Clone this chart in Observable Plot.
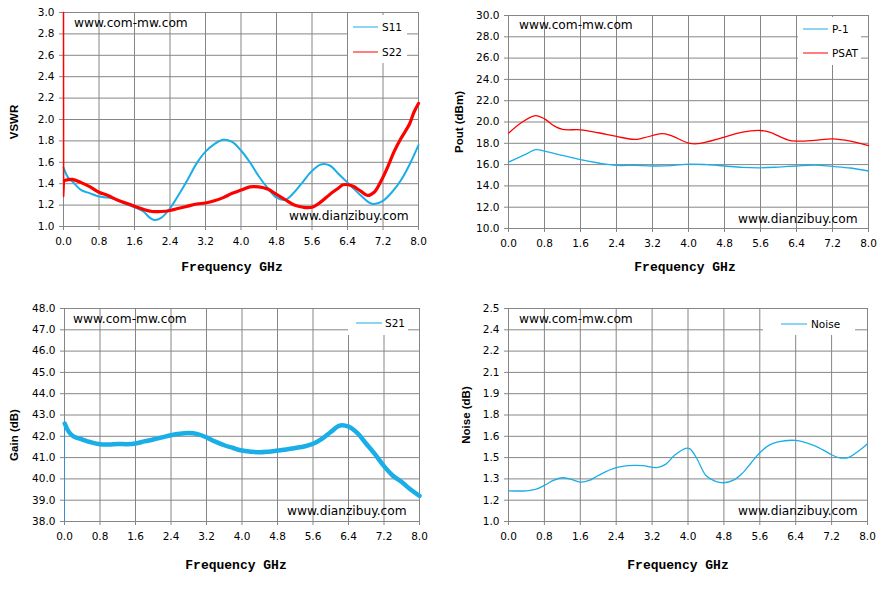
<!DOCTYPE html>
<html><head><meta charset="utf-8">
<script src="https://cdn.jsdelivr.net/npm/d3@7"></script>
<script src="https://cdn.jsdelivr.net/npm/@observablehq/plot@0.6"></script>
<style>
body{margin:0;background:#fff;}
#root{position:relative;width:896px;height:591px;overflow:hidden;background:#fff;font-family:"DejaVu Sans",sans-serif;color:#000;}
.panel{position:absolute;}
.ov{position:absolute;white-space:nowrap;line-height:1;}
.wm{font-family:"DejaVu Sans",sans-serif;font-size:12.2px;transform:translateY(-50%);}
.xl{font-family:"Liberation Mono",monospace;font-weight:bold;font-size:13px;transform:translate(-50%,-50%);}
.yl{font-family:"Liberation Sans",sans-serif;font-weight:bold;font-size:11.5px;transform:translate(-50%,-50%) rotate(-90deg);}
.lgbox{position:absolute;background:#fff;}
.lgline{position:absolute;height:0;border-top:1.6px solid;transform:translateY(-50%);}
.lgtext{position:absolute;font-size:10.5px;transform:translateY(-50%);white-space:nowrap;line-height:1;}
</style></head>
<body><div id="root"></div>
<script>
// ---------- shared x axis ----------
const freqTicks = [0, 0.8, 1.6, 2.4, 3.2, 4.0, 4.8, 5.6, 6.4, 7.2, 8.0];
const freqTickLabels = ["0.0","0.8","1.6","2.4","3.2","4.0","4.8","5.6","6.4","7.2","8.0"];

// ---------- VSWR panel ----------
const vswrTicks = [1.0,1.2,1.4,1.6,1.8,2.0,2.2,2.4,2.6,2.8,3.0];
const vswrTickLabels = ["1.0","1.2","1.4","1.6","1.8","2.0","2.2","2.4","2.6","2.8","3.0"];
const s11Freq = [0,0.05,0.1,0.2,0.4,0.6,0.8,1.0,1.2,1.4,1.6,1.8,1.95,2.05,2.2,2.4,2.6,2.8,3.0,3.2,3.4,3.6,3.8,4.0,4.2,4.4,4.6,4.8,5.0,5.2,5.4,5.6,5.8,6.0,6.2,6.4,6.5,6.7,6.9,7.0,7.2,7.4,7.6,7.8,8.0];
const s11Vswr = [1.55,1.50,1.46,1.42,1.34,1.31,1.28,1.27,1.25,1.21,1.18,1.14,1.08,1.06,1.08,1.17,1.30,1.44,1.59,1.70,1.77,1.81,1.79,1.71,1.60,1.47,1.36,1.27,1.25,1.32,1.42,1.52,1.58,1.57,1.49,1.41,1.37,1.29,1.22,1.21,1.24,1.32,1.43,1.58,1.76];
const s22Freq = [0.02,0.2,0.4,0.6,0.8,1.0,1.2,1.4,1.6,1.8,2.0,2.2,2.4,2.6,2.8,3.0,3.2,3.4,3.6,3.8,4.0,4.2,4.4,4.6,4.8,5.0,5.2,5.4,5.6,5.8,6.0,6.2,6.3,6.5,6.7,6.85,7.0,7.15,7.3,7.45,7.6,7.8,7.9,8.0];
const s22Vswr = [1.43,1.44,1.41,1.37,1.32,1.29,1.25,1.22,1.19,1.16,1.14,1.14,1.15,1.17,1.19,1.21,1.22,1.24,1.27,1.31,1.34,1.37,1.37,1.35,1.30,1.25,1.20,1.18,1.18,1.23,1.30,1.36,1.39,1.38,1.33,1.29,1.32,1.42,1.55,1.70,1.82,1.96,2.07,2.15];
const s22SpikeFreq = [0, 0.003, 0.02];
const s22SpikeVswr = [3.0, 1.28, 1.43];

// ---------- Pout panel ----------
const poutTicks = [10,12,14,16,18,20,22,24,26,28,30];
const poutTickLabels = ["10.0","12.0","14.0","16.0","18.0","20.0","22.0","24.0","26.0","28.0","30.0"];
const p1Freq = [0,0.4,0.6,0.8,1.2,1.6,2.0,2.4,2.8,3.2,3.6,4.0,4.4,4.8,5.2,5.6,6.0,6.4,6.8,7.2,7.6,8.0];
const p1Dbm  = [16.24,17.0,17.4,17.27,16.86,16.46,16.15,15.93,15.93,15.87,15.9,16.05,16.0,15.87,15.74,15.7,15.77,15.87,15.96,15.83,15.68,15.4];
const psatFreq = [0,0.3,0.6,0.8,1.0,1.2,1.6,2.0,2.4,2.8,3.0,3.4,3.6,4.0,4.2,4.8,5.2,5.6,5.8,6.2,6.4,6.8,7.2,7.6,8.0];
const psatDbm  = [18.95,19.98,20.6,20.3,19.67,19.3,19.27,18.99,18.64,18.36,18.5,18.9,18.74,18.02,17.96,18.58,19.05,19.2,19.05,18.33,18.2,18.27,18.42,18.2,17.77];

// ---------- Gain panel ----------
const gainTicks = [38,39,40,41,42,43,44,45,46,47,48];
const gainTickLabels = ["38.0","39.0","40.0","41.0","42.0","43.0","44.0","45.0","46.0","47.0","48.0"];
const s21Freq = [0.005,0.1,0.2,0.4,0.6,0.8,1.0,1.2,1.4,1.6,1.8,2.0,2.2,2.4,2.6,2.8,3.0,3.2,3.4,3.6,3.8,4.0,4.2,4.4,4.6,4.8,5.0,5.2,5.4,5.6,5.8,6.0,6.2,6.4,6.6,6.8,7.0,7.2,7.4,7.6,7.8,8.0];
const s21Db = [42.6,42.2,42.0,41.85,41.72,41.63,41.62,41.64,41.63,41.66,41.76,41.85,41.95,42.05,42.12,42.15,42.1,41.95,41.75,41.58,41.45,41.33,41.28,41.25,41.28,41.33,41.38,41.45,41.52,41.65,41.88,42.2,42.5,42.45,42.15,41.65,41.15,40.6,40.15,39.85,39.5,39.2];
const s21SpikeFreq = [0, 0.001];
const s21SpikeDb = [38.0, 42.6];

// ---------- Noise panel ----------
const noiseTicks = [1.0,1.15,1.3,1.45,1.6,1.75,1.9,2.05,2.2,2.35,2.5];
const noiseTickLabels = ["1.0","1.2","1.3","1.5","1.6","1.8","1.9","2.1","2.2","2.4","2.5"];
const noiseFreq = [0,0.4,0.6,0.8,1.0,1.2,1.4,1.6,1.8,2.0,2.4,2.8,3.0,3.3,3.5,3.7,3.95,4.05,4.2,4.4,4.6,4.8,5.0,5.2,5.4,5.6,5.8,6.0,6.4,6.8,7.0,7.2,7.4,7.6,7.8,8.0];
const noiseDb = [1.216,1.216,1.226,1.254,1.289,1.308,1.296,1.277,1.289,1.324,1.379,1.395,1.393,1.379,1.402,1.466,1.515,1.51,1.442,1.324,1.285,1.273,1.289,1.336,1.41,1.484,1.536,1.56,1.571,1.536,1.506,1.47,1.447,1.454,1.496,1.548];

const BLUE = "#1AAEE8", RED = "#FF0000", GRID = "#868686";

const zip = (xs, ys) => xs.map((x, i) => ({x, y: ys[i]}));
const labelFor = (ticks, labels) => d => { const i = ticks.findIndex(t => Math.abs(t - d) < 1e-6); return i >= 0 ? labels[i] : ""; };

const root = document.getElementById("root");

function panel(o) {
  const chart = Plot.plot({
    width: o.width, height: o.height,
    marginTop: o.mt, marginRight: o.mr, marginBottom: o.mb, marginLeft: o.ml,
    style: {fontFamily: "DejaVu Sans, sans-serif", fontSize: "10.5px", color: "#000", background: "transparent", overflow: "visible"},
    x: {domain: [0, 8]},
    y: {domain: o.yDomain},
    marks: [
      Plot.ruleX(freqTicks, {stroke: GRID, strokeWidth: 1}),
      Plot.ruleY(o.yTicks, {stroke: GRID, strokeWidth: 1}),
      Plot.axisX({ticks: freqTicks, tickFormat: labelFor(freqTicks, freqTickLabels), tickSize: 4, tickPadding: 7, label: null, stroke: GRID, fill: "#000"}),
      Plot.axisY({ticks: o.yTicks, tickFormat: labelFor(o.yTicks, o.yLabels), tickSize: 4, tickPadding: 5, label: null, stroke: GRID, fill: "#000"}),
      ...o.marks
    ]
  });
  const div = document.createElement("div");
  div.className = "panel";
  div.style.left = o.left + "px"; div.style.top = o.top + "px";
  div.appendChild(chart);
  root.appendChild(div);
}

function text(cls, str, x, y) {
  const d = document.createElement("div");
  d.className = "ov " + cls; d.textContent = str;
  d.style.left = x + "px"; d.style.top = y + "px";
  root.appendChild(d);
}
function legend(box, items) {
  const b = document.createElement("div");
  b.className = "lgbox";
  Object.assign(b.style, {left: box[0] + "px", top: box[1] + "px", width: box[2] + "px", height: box[3] + "px"});
  root.appendChild(b);
  for (const it of items) {
    const l = document.createElement("div");
    l.className = "lgline";
    Object.assign(l.style, {left: it.x1 + "px", width: (it.x2 - it.x1) + "px", top: it.y + "px", borderTopColor: it.color});
    root.appendChild(l);
    const t = document.createElement("div");
    t.className = "lgtext"; t.textContent = it.label;
    Object.assign(t.style, {left: it.tx + "px", top: it.y + "px"});
    root.appendChild(t);
  }
}

// Panel 1: VSWR
panel({left: 0, top: 0, width: 440, height: 290, mt: 12, mr: 22, mb: 64, ml: 63,
  yDomain: [1, 3], yTicks: vswrTicks, yLabels: vswrTickLabels,
  marks: [
    Plot.line(zip(s11Freq, s11Vswr), {x: "x", y: "y", stroke: BLUE, strokeWidth: 2, curve: "catmull-rom"}),
    Plot.line(zip(s22SpikeFreq, s22SpikeVswr), {x: "x", y: "y", stroke: RED, strokeWidth: 1.5}),
    Plot.line(zip(s22Freq, s22Vswr), {x: "x", y: "y", stroke: RED, strokeWidth: 3.2, curve: "catmull-rom"})
  ]});
// Panel 2: Pout
panel({left: 440, top: 0, width: 456, height: 290, mt: 15, mr: 28, mb: 62, ml: 68,
  yDomain: [10, 30], yTicks: poutTicks, yLabels: poutTickLabels,
  marks: [
    Plot.line(zip(p1Freq, p1Dbm), {x: "x", y: "y", stroke: BLUE, strokeWidth: 1.3, curve: "catmull-rom"}),
    Plot.line(zip(psatFreq, psatDbm), {x: "x", y: "y", stroke: RED, strokeWidth: 1.3, curve: "catmull-rom"})
  ]});
// Panel 3: Gain
panel({left: 0, top: 290, width: 440, height: 301, mt: 18, mr: 21, mb: 70, ml: 64,
  yDomain: [38, 48], yTicks: gainTicks, yLabels: gainTickLabels,
  marks: [
    Plot.line(zip(s21SpikeFreq, s21SpikeDb), {x: "x", y: "y", stroke: "#3b8fc8", strokeWidth: 1}),
    Plot.line(zip(s21Freq, s21Db), {x: "x", y: "y", stroke: BLUE, strokeWidth: 4.5, curve: "catmull-rom"})
  ]});
// Panel 4: Noise
panel({left: 440, top: 290, width: 456, height: 301, mt: 18, mr: 29, mb: 70, ml: 68,
  yDomain: [1.0, 2.5], yTicks: noiseTicks, yLabels: noiseTickLabels,
  marks: [
    Plot.line(zip(noiseFreq, noiseDb), {x: "x", y: "y", stroke: BLUE, strokeWidth: 1.3, curve: "catmull-rom"})
  ]});

// Axis titles
text("xl", "Frequency GHz", 232, 267);
text("xl", "Frequency GHz", 685, 267);
text("xl", "Frequency GHz", 236, 565);
text("xl", "Frequency GHz", 678, 565);
text("yl", "VSWR", 15, 122);
text("yl", "Pout (dBm)", 460, 122);
text("yl", "Gain (dB)", 15, 435);
text("yl", "Noise (dB)", 467, 415);

// Watermarks
text("wm", "www.com-mw.com", 74, 23);
text("wm", "www.dianzibuy.com", 289, 216);
text("wm", "www.com-mw.com", 519, 25);
text("wm", "www.dianzibuy.com", 738, 219);
text("wm", "www.com-mw.com", 73, 319);
text("wm", "www.dianzibuy.com", 287, 511);
text("wm", "www.com-mw.com", 519, 319);
text("wm", "www.dianzibuy.com", 738, 511);

// Legends
legend([348, 15, 59, 48], [
  {label: "S11", color: BLUE, x1: 353, x2: 378, tx: 382, y: 27},
  {label: "S22", color: RED, x1: 353, x2: 378, tx: 382, y: 52}
]);
legend([798, 17, 63, 48], [
  {label: "P-1", color: BLUE, x1: 803, x2: 828, tx: 832, y: 29},
  {label: "PSAT", color: RED, x1: 803, x2: 828, tx: 832, y: 53}
]);
legend([348, 309, 60, 26], [
  {label: "S21", color: BLUE, x1: 356, x2: 382, tx: 385, y: 323}
]);
legend([763, 309, 92, 26], [
  {label: "Noise", color: BLUE, x1: 781, x2: 807, tx: 811, y: 324}
]);
</script>
</body></html>
